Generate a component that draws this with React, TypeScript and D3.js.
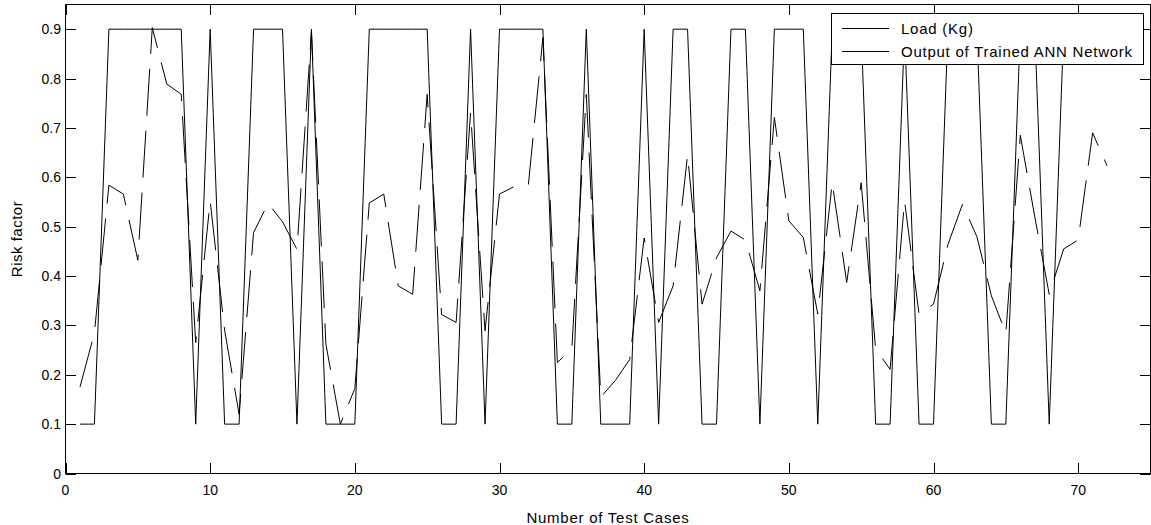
import React from "react";
import * as d3 from "d3";

// ---- data ----
const caseNumbers = [
  1, 2, 3, 4, 5, 6, 7, 8, 9, 10, 11, 12, 13, 14, 15, 16, 17, 18, 19, 20, 21, 22, 23, 24,
  25, 26, 27, 28, 29, 30, 31, 32, 33, 34, 35, 36, 37, 38, 39, 40, 41, 42, 43, 44, 45, 46, 47, 48,
  49, 50, 51, 52, 53, 54, 55, 56, 57, 58, 59, 60, 61, 62, 63, 64, 65, 66, 67, 68, 69, 70, 71, 72,
];

const loadValues = [
  0.1, 0.1, 0.9, 0.9, 0.9, 0.9, 0.9, 0.9, 0.1, 0.9,
  0.1, 0.1, 0.9, 0.9, 0.9, 0.1, 0.9, 0.1, 0.1, 0.1,
  0.9, 0.9, 0.9, 0.9, 0.9, 0.1, 0.1, 0.9, 0.1, 0.9,
  0.9, 0.9, 0.9, 0.1, 0.1, 0.9, 0.1, 0.1, 0.1, 0.9,
  0.1, 0.9, 0.9, 0.1, 0.1, 0.9, 0.9, 0.1, 0.9, 0.9,
  0.9, 0.1, 0.9, 0.9, 0.9, 0.1, 0.1, 0.9, 0.1, 0.1,
  0.9, 0.9, 0.9, 0.1, 0.1, 0.9, 0.9, 0.1, 0.9, 0.9,
  0.9, 0.9,
];

const annOutput = [
  0.175, 0.285, 0.584, 0.566, 0.432, 0.903, 0.789, 0.768, 0.265, 0.552,
  0.29, 0.12, 0.488, 0.547, 0.51, 0.454, 0.895, 0.262, 0.1, 0.172,
  0.548, 0.566, 0.38, 0.363, 0.768, 0.322, 0.306, 0.731, 0.289, 0.566,
  0.581, 0.586, 0.883, 0.225, 0.252, 0.768, 0.155, 0.188, 0.231, 0.477,
  0.306, 0.38, 0.645, 0.343, 0.437, 0.491, 0.473, 0.37, 0.721, 0.512,
  0.478, 0.323, 0.589, 0.387, 0.589, 0.252, 0.211, 0.552, 0.323, 0.343,
  0.464, 0.545, 0.48, 0.36, 0.284, 0.685, 0.52, 0.363, 0.455, 0.473,
  0.69, 0.623,
];

const xTicks = [0, 10, 20, 30, 40, 50, 60, 70];
const yTicks = [0, 0.1, 0.2, 0.3, 0.4, 0.5, 0.6, 0.7, 0.8, 0.9];
const yTickLabels = ["0", "0.1", "0.2", "0.3", "0.4", "0.5", "0.6", "0.7", "0.8", "0.9"];
const seriesNames = ["Load (Kg)", "Output of Trained ANN Network"];
const xTitle = "Number of Test Cases";
const yTitle = "Risk factor";

const W = 1151;
const H = 525;
const FONT = "'Liberation Sans', Arial, Helvetica, sans-serif";

export default function App() {
  const x = d3.scaleLinear().domain([0, 75]).range([65.5, 1150.5]);
  const y = d3.scaleLinear().domain([0, 0.95]).range([473.5, 4.5]);

  const line = d3
    .line<number>()
    .x((_, i) => x(caseNumbers[i]))
    .y((d) => y(d));

  const left = x(0);
  const right = x(75);
  const top = y(0.95);
  const bottom = y(0);
  const tickLen = 10.5;

  const legX = 831.5;
  const legY = 13.5;
  const legW = 312;
  const legH = 51;

  return (
    <svg
      width={W}
      height={H}
      style={{ position: "absolute", left: 0, top: 0, background: "#fff" }}
      fontFamily={FONT}
    >
      <rect x={0} y={0} width={W} height={H} fill="#fff" />

      {/* series */}
      <path d={line(loadValues) || ""} fill="none" stroke="#000" strokeWidth={1} />
      <path
        d={line(annOutput) || ""}
        fill="none"
        stroke="#000"
        strokeWidth={1}
        strokeDasharray="47 15"
      />

      {/* axes box */}
      <rect
        x={left}
        y={top}
        width={right - left}
        height={bottom - top}
        fill="none"
        stroke="#000"
        strokeWidth={1}
      />

      {/* x ticks */}
      {xTicks.map((t) => (
        <g key={"xt" + t}>
          <line x1={Math.round(x(t)) + 0.5} x2={Math.round(x(t)) + 0.5} y1={bottom} y2={bottom - tickLen} stroke="#000" />
          <line x1={Math.round(x(t)) + 0.5} x2={Math.round(x(t)) + 0.5} y1={top} y2={top + tickLen} stroke="#000" />
          <text x={x(t)} y={495} fontSize={14} textAnchor="middle" fill="#000">
            {t}
          </text>
        </g>
      ))}

      {/* y ticks */}
      {yTicks.map((t, i) => (
        <g key={"yt" + t}>
          <line x1={left} x2={left + tickLen} y1={Math.round(y(t)) + 0.5} y2={Math.round(y(t)) + 0.5} stroke="#000" />
          <line x1={right} x2={right - tickLen} y1={Math.round(y(t)) + 0.5} y2={Math.round(y(t)) + 0.5} stroke="#000" />
          <text x={61} y={y(t) + 5} fontSize={14} textAnchor="end" fill="#000">
            {yTickLabels[i]}
          </text>
        </g>
      ))}

      {/* axis titles */}
      <text
        x={(left + right) / 2}
        y={523}
        fontSize={15}
        letterSpacing={0.75}
        textAnchor="middle"
        fill="#000"
      >
        {xTitle}
      </text>
      <text
        transform={`translate(22, ${(top + bottom) / 2}) rotate(-90)`}
        fontSize={15}
        letterSpacing={0.5}
        textAnchor="middle"
        fill="#000"
      >
        {yTitle}
      </text>

      {/* legend */}
      <rect x={legX} y={legY} width={legW} height={legH} fill="#fff" stroke="#000" strokeWidth={1} />
      <line x1={842} x2={889} y1={28.5} y2={28.5} stroke="#000" strokeWidth={1} />
      <line x1={842} x2={889} y1={51.5} y2={51.5} stroke="#000" strokeWidth={1} strokeDasharray="47 15" />
      <text x={901} y={33.5} fontSize={15} letterSpacing={0.75} fill="#000">
        {seriesNames[0]}
      </text>
      <text x={901} y={56.5} fontSize={15} letterSpacing={0.75} fill="#000">
        {seriesNames[1]}
      </text>
    </svg>
  );
}
